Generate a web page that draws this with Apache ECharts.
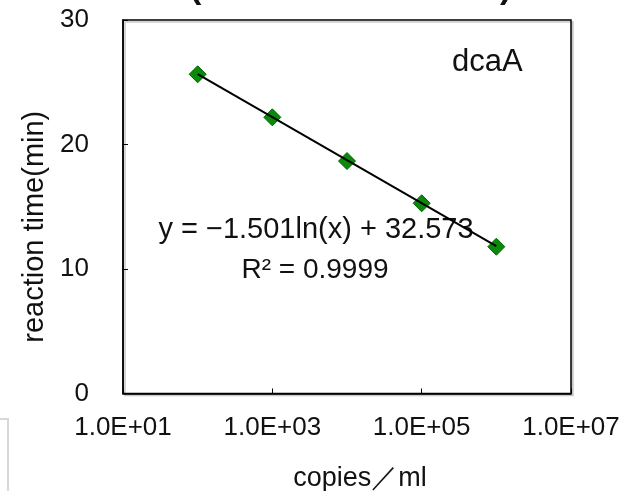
<!DOCTYPE html>
<html>
<head>
<meta charset="utf-8">
<script src="https://cdn.jsdelivr.net/npm/echarts@6/dist/echarts.min.js"></script>
<style>
  html, body { margin: 0; padding: 0; background: #fff; }
  #main { width: 622px; height: 491px; }
</style>
</head>
<body>
<div id="main"></div>
<script>
// 测定点 (copies/ml, min)
var copies = [1e2, 1e3, 1e4, 1e5, 1e6];
var reactionTime = [25.64, 22.18, 18.67, 15.28, 11.79];
// 近似曲线两端
var trendCopies = [1e2, 1e6];
var trendTime = [25.66, 11.83];
var yTicks = [0, 10, 20, 30];

var font = 'Liberation Sans, Arial, sans-serif';

var myChart = echarts.init(document.getElementById('main'));

var option = {
    backgroundColor: '#FFFFFF',
    animation: false,
    grid: {
        left: 123, top: 20, width: 448, height: 373.5,
        outerBoundsMode: 'none',
        show: true,
        backgroundColor: '#fff',
        borderColor: '#000',
        borderWidth: 1.5,
        shadowColor: '#c8c8c8',
        shadowOffsetX: 2,
        shadowOffsetY: 2,
        shadowBlur: 0
    },
    xAxis: {
        type: 'log',
        min: 10,
        max: 1e7,
        interval: 2,
        name: 'copies／ml',
        nameLocation: 'middle',
        nameGap: 72,
        nameTextStyle: { fontFamily: font, fontSize: 27, color: '#111', padding: [0, 0, 0, 26] },
        axisLine: { lineStyle: { color: '#000', width: 1.5 } },
        axisTick: { inside: true, length: 5, lineStyle: { color: '#000' } },
        splitLine: { show: false },
        minorTick: { show: false },
        axisLabel: {
            margin: 21,
            fontFamily: font, fontSize: 26, color: '#111',
            formatter: function (v) {
                var e = Math.round(Math.log10(v));
                return '1.0E+' + (e < 10 ? '0' : '') + e;
            }
        }
    },
    yAxis: {
        type: 'value',
        min: yTicks[0],
        max: yTicks[yTicks.length - 1],
        interval: 10,
        name: 'reaction time(min)',
        nameLocation: 'middle',
        nameRotate: 90,
        nameGap: 72,
        nameTextStyle: { fontFamily: font, fontSize: 29, color: '#111', padding: [0, 40, 0, 0] },
        axisLine: { show: true, lineStyle: { color: '#000', width: 1.5 } },
        axisTick: { show: true, inside: true, length: 5, lineStyle: { color: '#000' } },
        splitLine: { show: false },
        axisLabel: {
            margin: 34,
            fontFamily: font, fontSize: 26, color: '#111'
        }
    },
    graphic: [
        { type: 'text', x: 452, y: 62, style: { text: 'dcaA', font: '31px ' + font, fill: '#111', verticalAlign: 'middle' } },
        { type: 'text', x: 316, y: 230, style: { text: 'y = −1.501ln(x) + 32.573', font: '29px ' + font, fill: '#111', align: 'center', verticalAlign: 'middle' } },
        { type: 'text', x: 315, y: 270, style: { text: 'R² = 0.9999', font: '28px ' + font, fill: '#111', align: 'center', verticalAlign: 'middle' } },
        { type: 'text', x: 190, y: -28, style: { text: '(', font: 'bold 34px ' + font, fill: '#111' } },
        { type: 'text', x: 500, y: -28, style: { text: ')', font: 'bold 34px ' + font, fill: '#111' } },
        { type: 'polyline', shape: { points: [[0, 419], [8, 419], [8, 491]] }, style: { stroke: '#d8d8d8', lineWidth: 2, fill: null } }
    ],
    series: [
        {
            name: 'trend',
            type: 'line',
            data: trendCopies.map(function (c, i) { return [c, trendTime[i]]; }),
            symbol: 'none',
            lineStyle: { color: '#000', width: 2 },
            z: 3
        },
        {
            name: 'dcaA',
            type: 'scatter',
            data: copies.map(function (c, i) { return [c, reactionTime[i]]; }),
            symbol: 'diamond',
            symbolSize: [17, 17],
            itemStyle: { color: '#0a8a0a', borderColor: '#006400', borderWidth: 1, opacity: 1 },
            z: 2
        }
    ]
};

myChart.setOption(option);
</script>
</body>
</html>
